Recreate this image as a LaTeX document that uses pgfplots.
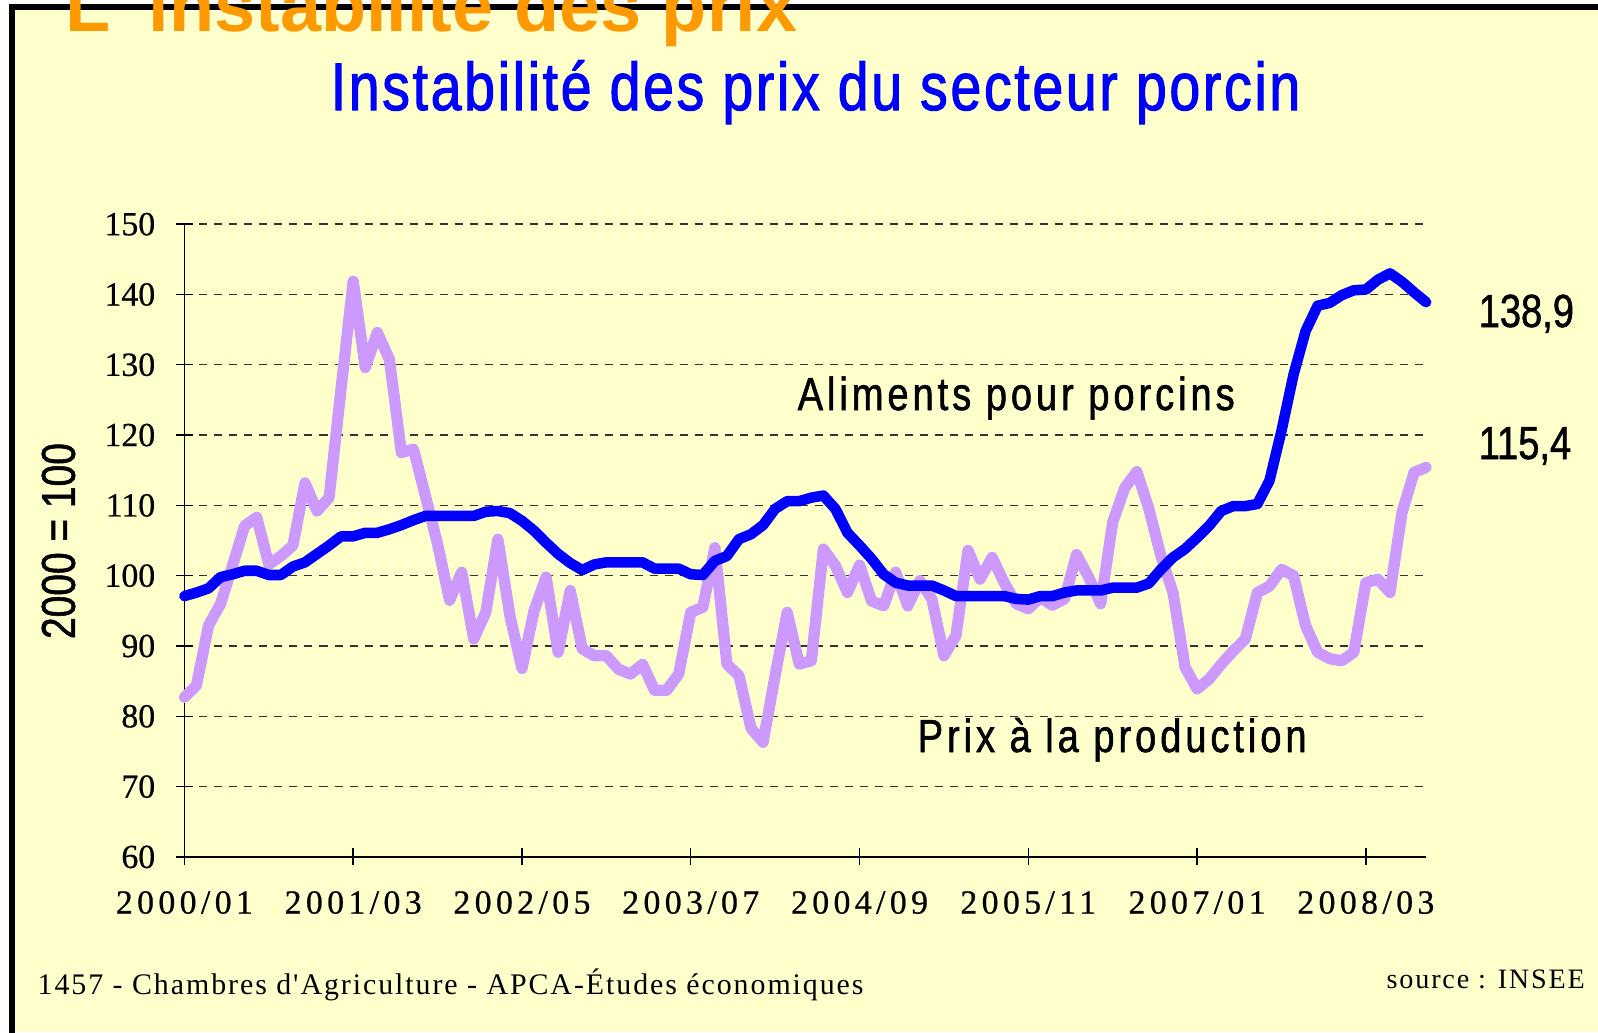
\documentclass[border=0pt]{standalone}
\usepackage{fontspec}
\setmainfont{Liberation Serif}
\newfontfamily\sansbold{Liberation Sans}
\newfontfamily\narrow[FakeStretch=0.82,FakeBold=1.2]{Liberation Sans}
\newfontfamily\narrowsp[FakeStretch=0.82,LetterSpace=8.5,FakeBold=1.2]{Liberation Sans}
\newfontfamily\titlenarrow[FakeStretch=0.82,LetterSpace=4.0,FakeBold=1.6]{Liberation Sans}
\newfontfamily\ticky[FakeBold=0.6]{Liberation Serif}
\newfontfamily\tickx[LetterSpace=13,FakeBold=0.6]{Liberation Serif}
\newfontfamily\foot[LetterSpace=6.5]{Liberation Serif}
\usepackage{pgfplots}
\pgfplotsset{compat=1.18}
\usepackage{pgfplotstable}

\definecolor{bgyellow}{HTML}{FFFFCC}
\definecolor{titleorange}{HTML}{FF9900}
\definecolor{feedblue}{HTML}{0000FF}
\definecolor{pricelilac}{HTML}{CC99FF}

% month index (0 = 2000/01), index 2000 = 100
\pgfplotstableread{
m v
0 97.1
1 97.6
2 98.2
3 99.8
4 100.2
5 100.7
6 100.7
7 100.1
8 100.1
9 101.3
10 101.9
11 103.1
12 104.3
13 105.6
14 105.6
15 106.1
16 106.1
17 106.6
18 107.2
19 107.9
20 108.5
21 108.5
22 108.5
23 108.5
24 108.5
25 109.1
26 109.2
27 108.9
28 107.8
29 106.4
30 104.7
31 103.1
32 101.8
33 100.8
34 101.6
35 101.9
36 101.9
37 101.9
38 101.9
39 101.0
40 101.0
41 101.0
42 100.2
43 100.1
44 102.1
45 102.8
46 105.2
47 105.9
48 107.2
49 109.5
50 110.6
51 110.6
52 111.1
53 111.4
54 109.5
55 106.1
56 104.3
57 102.4
58 100.2
59 99.0
60 98.6
61 98.6
62 98.6
63 97.9
64 97.1
65 97.1
66 97.1
67 97.1
68 97.1
69 96.7
70 96.6
71 97.1
72 97.1
73 97.6
74 97.9
75 97.9
76 97.9
77 98.3
78 98.3
79 98.3
80 98.9
81 100.9
82 102.6
83 103.8
84 105.4
85 107.1
86 109.2
87 109.9
88 109.9
89 110.2
90 113.5
91 120.6
92 128.6
93 134.8
94 138.4
95 138.8
96 139.9
97 140.6
98 140.7
99 142.1
100 143.0
101 141.8
102 140.3
103 138.9
}\aliments

\pgfplotstableread{
m v
0 82.7
1 84.4
2 92.9
3 96.0
4 101.5
5 107.1
6 108.3
7 101.6
8 102.8
9 104.3
10 113.2
11 109.2
12 111.1
13 126.7
14 141.9
15 129.6
16 134.6
17 130.8
18 117.5
19 118.0
20 111.3
21 104.5
22 96.5
23 100.5
24 91.0
25 94.8
26 105.2
27 94.3
28 86.8
29 95.0
30 99.8
31 89.1
32 97.9
33 89.6
34 88.6
35 88.6
36 86.7
37 86.0
38 87.4
39 83.7
40 83.7
41 86.0
42 94.8
43 95.5
44 104.0
45 87.4
46 85.8
47 78.3
48 76.3
49 85.8
50 94.8
51 87.4
52 87.9
53 103.8
54 101.4
55 97.6
56 101.5
57 96.4
58 95.7
59 100.5
60 95.7
61 99.3
62 96.7
63 88.6
64 91.5
65 103.6
66 99.5
67 102.6
68 99.0
69 96.0
70 95.3
71 96.9
72 95.8
73 96.7
74 103.0
75 99.8
76 96.0
77 107.6
78 112.5
79 114.8
80 109.5
81 102.8
82 97.6
83 87.0
84 83.9
85 85.3
86 87.4
87 89.3
88 91.0
89 97.6
90 98.5
91 100.9
92 100.0
93 92.9
94 89.1
95 88.2
96 87.9
97 89.1
98 99.0
99 99.5
100 97.6
101 109.0
102 114.7
103 115.4
}\prix

\begin{document}
\begin{tikzpicture}[x=0.01cm,y=0.01cm]
\useasboundingbox (0,0) rectangle (1598,1032);
\clip (0,0) rectangle (1598,1032);
\fill[white] (0,0) rectangle (1598,1032);
\fill[bgyellow] (12,0) rectangle (1598,1025);
\draw[black, line width=0.05cm] (12,-5) -- (12,1025) -- (1605,1025);

\begin{axis}[
  at={(1.843cm,1.75cm)}, anchor=south west,
  scale only axis, width=12.41cm, height=6.324cm,
  xmin=0, xmax=103, ymin=60, ymax=150,
  enlargelimits=false,
  axis x line=bottom, axis y line=left,
  axis line style={black, line width=0.5pt, -},
  xtick={0,14,28,42,56,70,84,98},
  xticklabels={2000/01,2001/03,2002/05,2003/07,2004/09,2005/11,2007/01,2008/03},
  ytick={60,70,...,150},
  tick align=center,
  major tick length=0.17cm,
  tick style={black, line width=0.4pt},
  ymajorgrids,
  major grid style={black!80, line width=0.4pt, dash pattern=on 0.08cm off 0.07cm},
  /pgf/number format/assume math mode=true,
  yticklabel style={font=\ticky\fontsize{9.6}{9.6}\selectfont, anchor=east, inner sep=0pt, xshift=-0.2cm},
  xticklabel style={font=\tickx\fontsize{9.6}{9.6}\selectfont, anchor=north, inner sep=0pt, yshift=-0.25cm},
  clip=false,
]
\addplot[pricelilac, line width=3.2pt, line join=round, line cap=round] table[x=m, y=v] {\prix};
\addplot[feedblue, line width=3.0pt, line join=round, line cap=round] table[x=m, y=v] {\aliments};
\end{axis}

\node[anchor=base west, inner sep=0, text=titleorange, font=\sansbold\bfseries\fontsize{21}{21}\selectfont] at (65,1001) {L' instabilité des prix};
\node[anchor=base west, inner sep=0, text=feedblue, font=\titlenarrow\fontsize{19.2}{19.2}\selectfont] at (330,922) {Instabilité des prix du secteur porcin};
\node[anchor=base west, inner sep=0, font=\narrowsp\fontsize{13.2}{13.2}\selectfont] at (797,622) {Aliments pour porcins};
\node[anchor=base west, inner sep=0, font=\narrowsp\fontsize{13.2}{13.2}\selectfont] at (917,280) {Prix à la production};
\node[anchor=base west, inner sep=0, font=\narrow\fontsize{13.2}{13.2}\selectfont] at (1478,705) {138,9};
\node[anchor=base west, inner sep=0, font=\narrow\fontsize{13.2}{13.2}\selectfont] at (1478,573) {115,4};
\node[rotate=90, inner sep=0, font=\narrow\fontsize{13.5}{13.5}\selectfont] at (58.5,491) {2000 = 100};
\node[anchor=base west, inner sep=0, font=\foot\fontsize{8.5}{8.5}\selectfont] at (37,38) {1457 - Chambres d'Agriculture - APCA-Études économiques};
\node[anchor=base west, inner sep=0, font=\foot\fontsize{8}{8}\selectfont] at (1386,44) {source : INSEE};
\end{tikzpicture}
\end{document}
